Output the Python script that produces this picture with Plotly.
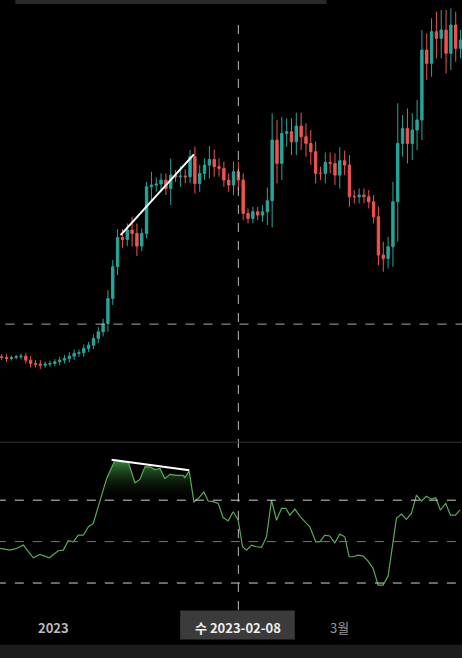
import plotly.graph_objects as go

# candle closes (zoomed pixel rows, smaller = higher price)
close_px = [1072, 1075, 1072, 1070, 1068, 1080, 1090, 1092, 1095, 1092, 1090, 1085, 1080, 1075, 1068,
            1060, 1058, 1045, 1035, 1015, 995, 970, 895, 800, 712, 718, 690, 700, 738, 700,
            560, 555, 552, 540, 565, 525, 530, 528, 530, 470, 550, 520, 495, 478, 500,
            505, 540, 555, 515, 540, 640, 655, 635, 645, 635, 602, 420, 490, 400, 395,
            425, 378, 410, 430, 455, 520, 520, 487, 490, 525, 482, 495, 590, 590, 585,
            590, 605, 650, 765, 775, 740, 605, 430, 385, 430, 390, 360, 150, 190, 95,
            115, 90, 160, 75, 145, 120]
wick_px = [8, 10, 6, 6, 8, 10, 12, 10, 12, 8, 8, 8, 10, 10, 12, 12, 10, 12, 10, 12, 14, 14, 25, 20, 25,
           25, 20, 40, 30, 15, 15, 40, 20, 20, 20, 50, 15, 30, 20, 20, 30, 25, 20, 40, 30,
           25, 20, 20, 30, 30, 20, 15, 15, 15, 20, 40, 80, 60, 50, 40, 40, 40, 40, 40, 40,
           30, 20, 30, 30, 30, 40, 30, 30, 20, 20, 20, 20, 20, 30, 40, 30, 60, 120, 40, 60,
           50, 60, 60, 50, 40, 60, 60, 60, 50, 40, 30]
open_px = [1070] + close_px[:-1]

# RSI readings: (zoomed x position, value)
rsi_pos = [0, 30, 50, 70, 100, 120, 148, 175, 190, 205, 220, 235, 250, 265, 280, 300, 320, 345, 365,
           385, 405, 420, 435, 450, 465, 480, 495, 510, 530, 550, 555, 568, 582, 595, 612, 625, 640,
           655, 670, 685, 700, 715, 728, 740, 755, 770, 785, 800, 815, 830, 845, 858, 870, 885, 900,
           915, 930, 948, 960, 975, 990, 1005, 1020, 1035, 1048, 1060, 1075, 1090, 1105, 1120, 1135,
           1150, 1165, 1190, 1205, 1220, 1235, 1250, 1265, 1280, 1295, 1308, 1322, 1338, 1352, 1367, 1381]
rsi_val = [46.7, 45.9, 46.7, 48.3, 42.2, 43.8, 42.2, 45.6, 45.9, 50.4, 49.9, 53.1, 53.1, 57.1, 58.8,
           70, 80.4, 89.3, 88.5, 88.5, 78.4, 80, 86.1, 86.1, 84.8, 85.3, 80.4, 82.5, 82, 82, 80.9, 84.1,
           69.2, 70.8, 74, 69.6, 69.3, 68.4, 61.6, 60, 64.4, 60.3, 47.5, 45.9, 48.3, 47.5, 47.2, 52.3,
           70, 60.3, 66, 66, 62.8, 65.7, 62.3, 59.6, 57.1, 49.9, 49.9, 53.1, 52.7, 49.4, 53.6, 52.3,
           42.7, 42.7, 43.5, 43, 40.6, 37.1, 29, 29, 33.4, 61.2, 63.3, 60.7, 63.6, 72.4, 69.6, 71.9,
           70.5, 71.2, 65.2, 68.4, 62.8, 62.8, 65.3]

x_tick_vals = [10.8, 70]
x_tick_text = ["2023", "3월"]
cross_label = "수 2023-02-08"

GREEN, RED = "#26a69a", "#ef5350"
idx = list(range(len(close_px)))
to_price = lambda v: 380 - v / 3
o = [to_price(v) for v in open_px]
c = [to_price(v) for v in close_px]
h = [max(a, b) + w / 3 for a, b, w in zip(o, c, wick_px)]
l = [min(a, b) - w / 3 for a, b, w in zip(o, c, wick_px)]
rx = [(p - 5) / 14.5 for p in rsi_pos]

fig = go.Figure()
fig.add_trace(go.Candlestick(x=idx, open=o, high=h, low=l, close=c, xaxis="x", yaxis="y",
                             increasing=dict(line=dict(color=GREEN, width=1), fillcolor=GREEN),
                             decreasing=dict(line=dict(color=RED, width=1), fillcolor=RED),
                             whiskerwidth=0, showlegend=False, hoverinfo="skip"))

# overbought fill
seg = [(x, v) for x, v in zip(rx, rsi_val) if 19.5 <= x <= 40]
fig.add_trace(go.Scatter(x=[s[0] for s in seg], y=[70] * len(seg), mode="lines", line=dict(width=0),
                         yaxis="y2", showlegend=False, hoverinfo="skip"))
fig.add_trace(go.Scatter(x=[s[0] for s in seg], y=[max(s[1], 70) for s in seg], mode="lines",
                         line=dict(width=0), fill="tonexty", yaxis="y2", showlegend=False, hoverinfo="skip",
                         fillgradient=dict(type="vertical", colorscale=[[0, "rgba(0,0,0,0)"], [1, "rgba(60,140,60,0.95)"]])))
fig.add_trace(go.Scatter(x=rx, y=rsi_val, mode="lines", line=dict(color="#5aa85a", width=1.2),
                         yaxis="y2", showlegend=False, hoverinfo="skip"))

dash = dict(color="#cfcfcf", width=1, dash="dash")
shapes = [
    dict(type="line", xref="x", yref="y2", x0=-1, x1=100, y0=70, y1=70, line=dash),
    dict(type="line", xref="x", yref="y2", x0=-1, x1=100, y0=30, y1=30, line=dash),
    dict(type="line", xref="x", yref="y2", x0=-1, x1=100, y0=50, y1=50, line=dict(color="#777", width=1, dash="dash")),
    dict(type="line", xref="x", yref="y", x0=0.8, x1=100, y0=56, y1=56, line=dict(color="#aaa", width=1, dash="dash")),
    dict(type="line", xref="x", yref="paper", x0=49, x1=49, y0=0.073, y1=0.975, line=dict(color="#bbb", width=1, dash="dash")),
    dict(type="line", xref="x", yref="y", x0=(362 - 5) / 14.5, x1=(582 - 5) / 14.5,
         y0=to_price(705), y1=to_price(463), line=dict(color="white", width=2)),
    dict(type="line", xref="x", yref="y2", x0=(335 - 5) / 14.5, x1=(568 - 5) / 14.5,
         y0=89.5, y1=84.5, line=dict(color="white", width=2)),
    dict(type="line", xref="paper", yref="paper", x0=0, x1=1, y0=0.328, y1=0.328, line=dict(color="#333", width=1)),
    dict(type="rect", xref="paper", yref="paper", x0=0, x1=1, y0=0, y1=0.02, fillcolor="#1c1c1c", line=dict(width=0)),
    dict(type="rect", xref="paper", yref="paper", x0=0.033, x1=0.707, y0=0.994, y1=1.01, fillcolor="#2a2a2a", line=dict(width=0)),
    dict(type="rect", xref="paper", yref="paper", x0=0.39, x1=0.638, y0=0.028, y1=0.072, fillcolor="#3b3b3b", line=dict(width=0)),
]

ann = [dict(x=v, y=0.046, xref="x", yref="paper", text=f"<b>{t}</b>" if t == "2023" else t, showarrow=False,
            yanchor="middle", font=dict(color="#bbb" if t == "2023" else "#999", size=13, family="Noto Sans CJK KR"))
       for v, t in zip(x_tick_vals, x_tick_text)]
ann.append(dict(x=49, y=0.046, xref="x", yref="paper", text=f"<b>{cross_label}</b>", showarrow=False,
                yanchor="middle", font=dict(color="#eee", size=13, family="Noto Sans CJK KR")))

fig.update_layout(
    width=462, height=658, margin=dict(l=0, r=0, t=0, b=0),
    paper_bgcolor="black", plot_bgcolor="black", shapes=shapes, annotations=ann,
    xaxis=dict(range=[-0.345, 95.3], visible=False, rangeslider=dict(visible=False)),
    yaxis=dict(domain=[0.328, 1], range=[-62, 380], visible=False),
    yaxis2=dict(domain=[0.073, 0.328], range=[17, 98], visible=False),
)
fig.write_html("out.html", config=dict(displayModeBar=False),
               post_script="document.body.style.margin='0';document.body.style.overflow='hidden';document.body.style.background='black';")
